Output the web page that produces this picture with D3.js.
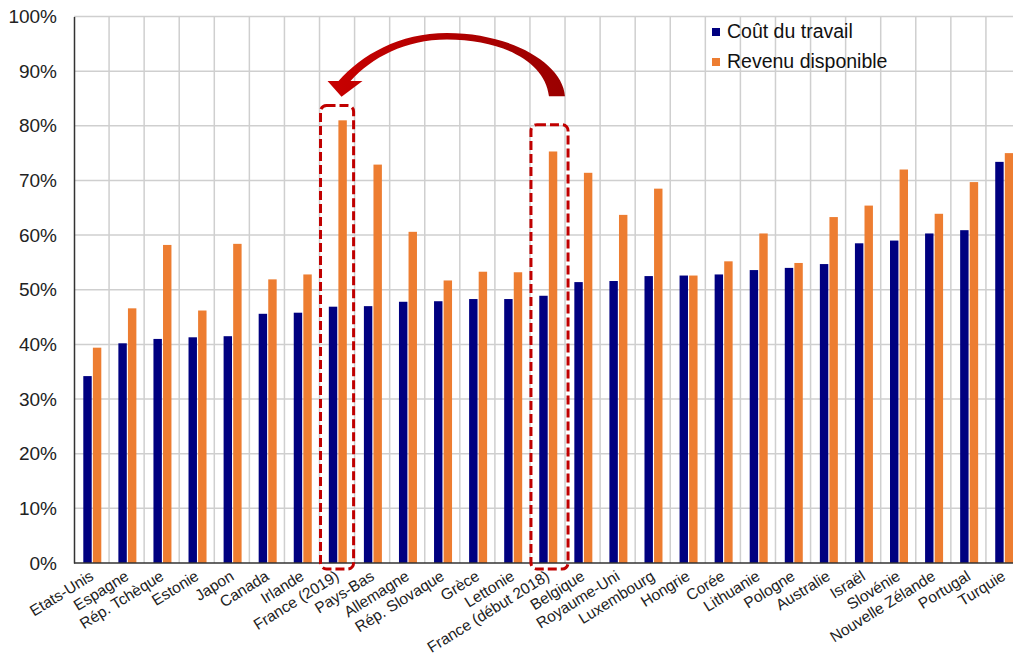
<!DOCTYPE html>
<html lang="fr">
<head>
<meta charset="UTF-8">
<script src="https://d3js.org/d3.v7.min.js"></script>
<style>
  body { margin: 0; background: #fff; font-family: "Liberation Sans", Arial, sans-serif; }
  svg { display: block; }
</style>
</head>
<body>
<div id="chart"></div>
<script>
// Données (en %)
const pays = ["Etats-Unis", "Espagne", "Rép. Tchèque", "Estonie", "Japon", "Canada", "Irlande",
  "France (2019)", "Pays-Bas", "Allemagne", "Rép. Slovaque", "Grèce", "Lettonie",
  "France (début 2018)", "Belgique", "Royaume-Uni", "Luxembourg", "Hongrie", "Corée",
  "Lithuanie", "Pologne", "Australie", "Israël", "Slovénie", "Nouvelle Zélande", "Portugal", "Turquie"];
const coutTravail = [34.2, 40.2, 41.0, 41.3, 41.5, 45.6, 45.8, 46.9, 47.0, 47.8, 47.9, 48.3, 48.3,
  48.9, 51.4, 51.6, 52.5, 52.6, 52.8, 53.6, 54.0, 54.7, 58.5, 59.0, 60.3, 60.9, 73.4];
const revenuDispo = [39.4, 46.6, 58.2, 46.2, 58.4, 51.9, 52.8, 81.0, 72.9, 60.6, 51.7, 53.3, 53.2,
  75.3, 71.4, 63.7, 68.5, 52.6, 55.2, 60.3, 54.9, 63.3, 65.4, 72.0, 63.9, 69.7, 75.0];
const series = ["Coût du travail", "Revenu disponible"];
const couleurs = ["#000080", "#ed7d31"];
const yTicks = [0, 10, 20, 30, 40, 50, 60, 70, 80, 90, 100];
const surlignes = ["France (2019)", "France (début 2018)"];

const width = 1013, height = 659;
const margin = { top: 16.5, left: 74, bottom: 96, right: -8 };

const data = pays.map((p, i) => ({ pays: p, valeurs: [coutTravail[i], revenuDispo[i]] }));

const x = d3.scaleBand()
  .domain(pays)
  .range([margin.left, width - margin.right]);

const xs = d3.scaleBand()
  .domain(series)
  .range([9.3, 27.3])
  .paddingInner(0.12);

const y = d3.scaleLinear()
  .domain([0, 100])
  .range([height - margin.bottom, margin.top]);

const svg = d3.select("#chart").append("svg")
  .attr("width", width)
  .attr("height", height);

// dégradé de la flèche
const defs = svg.append("defs");
const grad = defs.append("linearGradient").attr("id", "fleche").attr("x1", "0%").attr("x2", "100%");
grad.append("stop").attr("offset", "0%").attr("stop-color", "#c80000");
grad.append("stop").attr("offset", "100%").attr("stop-color", "#9a0000");

// grille horizontale
svg.append("g")
  .selectAll("line")
  .data(yTicks.slice(1))
  .enter().append("line")
  .attr("x1", margin.left).attr("x2", width)
  .attr("y1", d => y(d)).attr("y2", d => y(d))
  .attr("stroke", "#cfcfcf").attr("stroke-width", 1.5);

// grille verticale
svg.append("g")
  .selectAll("line")
  .data(pays.slice(1))
  .enter().append("line")
  .attr("x1", d => x(d)).attr("x2", d => x(d))
  .attr("y1", y(100)).attr("y2", y(0))
  .attr("stroke", "#cfcfcf").attr("stroke-width", 1.5);

// barres
const groupes = svg.append("g")
  .selectAll("g")
  .data(data)
  .enter().append("g")
  .attr("transform", d => `translate(${x(d.pays)},0)`);

groupes.selectAll("rect")
  .data(d => d.valeurs.map((v, i) => ({ serie: series[i], v })))
  .enter().append("rect")
  .attr("x", d => xs(d.serie))
  .attr("y", d => y(d.v))
  .attr("width", xs.bandwidth())
  .attr("height", d => y(0) - y(d.v))
  .attr("fill", (d, i) => couleurs[i]);

// axe Y
const yAxis = svg.append("g")
  .attr("transform", `translate(${margin.left},0)`)
  .call(d3.axisLeft(y).tickValues(yTicks).tickSize(0).tickPadding(17).tickFormat(d => d + "%"));
yAxis.select(".domain").attr("stroke", "#333").attr("stroke-width", 1.5);
yAxis.selectAll("text")
  .attr("font-family", "'Liberation Sans', Arial, sans-serif")
  .attr("font-size", 19)
  .attr("fill", "#222");

// ligne de base
svg.append("line")
  .attr("x1", margin.left).attr("x2", width)
  .attr("y1", y(0)).attr("y2", y(0))
  .attr("stroke", "#333").attr("stroke-width", 1.5);

// étiquettes X
svg.append("g")
  .selectAll("text")
  .data(pays)
  .enter().append("text")
  .attr("transform", d => `translate(${x(d) + x.bandwidth() / 2 - 3},${y(0) + 6}) rotate(-32)`)
  .attr("dy", "0.75em")
  .attr("text-anchor", "end")
  .attr("font-size", 15.5)
  .attr("fill", "#222")
  .text(d => d);

// cadres en pointillés autour des deux France
const cadres = [
  { pays: surlignes[0], haut: 83.7, extra: 0 },
  { pays: surlignes[1], haut: 80.2, extra: 4 }
];
svg.append("g")
  .selectAll("rect")
  .data(cadres)
  .enter().append("rect")
  .attr("x", d => x(d.pays) + 1)
  .attr("y", d => y(d.haut))
  .attr("width", d => x.bandwidth() - 2 + d.extra)
  .attr("height", d => y(0) + 6 - y(d.haut))
  .attr("rx", 6).attr("ry", 6)
  .attr("fill", "none")
  .attr("stroke", "#c00000")
  .attr("stroke-width", 3)
  .attr("stroke-dasharray", "9,4");

// flèche courbe de France (début 2018) vers France (2019)
const x0 = x(surlignes[1]), x1 = x(surlignes[0]);
const fleche = d3.path();
fleche.moveTo(x0 + 35, y(85.4));
fleche.bezierCurveTo(x0 + 33, y(91.5), x0 - 20, y(97), x0 - 83, y(97));
fleche.bezierCurveTo(x1 + 80, y(97), x1 + 42, y(93), x1 + 19, y(88.2));
fleche.lineTo(x1 + 8, y(88.2));
fleche.lineTo(x1 + 22, y(85.3));
fleche.lineTo(x1 + 43, y(88.2));
fleche.lineTo(x1 + 31, y(88.2));
fleche.bezierCurveTo(x1 + 52, y(92.5), x1 + 86, y(95.8), x0 - 83, y(95.8));
fleche.bezierCurveTo(x0 - 30, y(95.8), x0 + 15, y(92), x0 + 19, y(85.4));
fleche.closePath();
svg.append("path")
  .attr("d", fleche.toString())
  .attr("fill", "url(#fleche)");

// légende
const legende = svg.append("g")
  .selectAll("g")
  .data(series)
  .enter().append("g")
  .attr("transform", (d, i) => `translate(712,${28 + i * 30})`);
legende.append("rect")
  .attr("width", 8).attr("height", 8)
  .attr("fill", (d, i) => couleurs[i]);
legende.append("text")
  .attr("x", 15).attr("y", 10)
  .attr("font-size", 19.5)
  .attr("fill", "#111")
  .text(d => d);
</script>
</body>
</html>
